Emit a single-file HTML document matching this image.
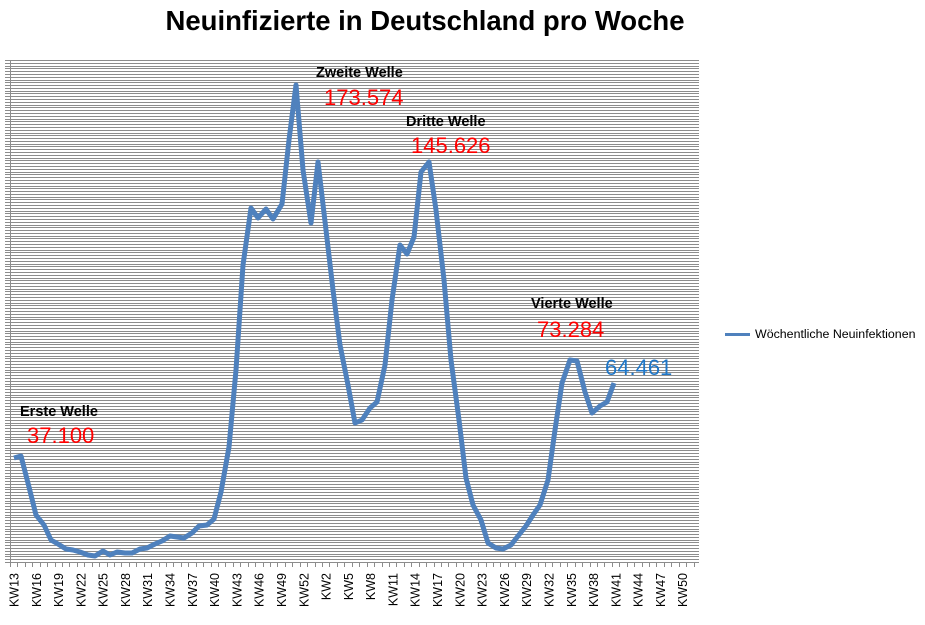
<!DOCTYPE html>
<html><head><meta charset="utf-8"><style>
body{margin:0;background:#fff;}
svg{display:block;font-family:"Liberation Sans",sans-serif;}
</style></head><body>
<svg width="925" height="625" viewBox="0 0 925 625">
<text x="425" y="30" text-anchor="middle" font-size="27.5" font-weight="bold" fill="#000">Neuinfizierte in Deutschland pro Woche</text>
<g id="grid" stroke="#8c8c8c" stroke-width="1"></g>
<line x1="10.5" y1="60" x2="10.5" y2="562" stroke="#8c8c8c"/>
<line x1="10" y1="562.5" x2="699" y2="562.5" stroke="#8c8c8c"/>
<g id="ticks" stroke="#8c8c8c"></g>
<g id="labels" font-size="12.5" fill="#000"></g>
<polyline fill="none" stroke="#4f81bd" stroke-width="5" stroke-linejoin="round" points="14,458 21,456 29,487 36,515 44,525 51,540 58,544 66,549 73,550 80,552 88,555 95,556 103,551 110,555 117,552 125,553 132,553 140,549 147,548 155,544 162,541 170,536 177,537 184,538 192,533 199,526 207,525 214,519 221,492 229,447 236,370 243,265 251,208 258,218 266,209 273,219 282,204 289,140 296,85 303,170 311,223 318,162 326,230 333,290 340,345 348,385 355,423 362,420 370,408 377,402 385,365 392,300 400,245 407,254 414,237 421,172 429,162 436,210 444,280 451,360 459,420 466,478 473,505 481,520 488,543 496,548 503,549 511,545 518,536 526,526 533,515 540,505 548,480 555,430 562,383 570,360 577,361 585,392 592,413 600,406 607,402 614,383"/>
<g font-size="14.5" font-weight="bold" fill="#000">
<text x="20" y="416">Erste Welle</text>
<text x="316" y="77">Zweite Welle</text>
<text x="406" y="126">Dritte Welle</text>
<text x="531" y="308">Vierte Welle</text>
</g>
<g font-size="22" fill="#ff0000">
<text x="27" y="443">37.100</text>
<text x="324" y="105">173.574</text>
<text x="411" y="153">145.626</text>
<text x="537" y="337">73.284</text>
</g>
<text x="605" y="375" font-size="22" fill="#1f77c8">64.461</text>
<line x1="725" y1="334.5" x2="750" y2="334.5" stroke="#4f81bd" stroke-width="3"/>
<text x="755" y="338" font-size="12.4" fill="#000">Wöchentliche Neuinfektionen</text>
</svg>
<script>
var g=document.getElementById('grid'),s='';
for(var v=0;v<=180;v++){var y=Math.round(562-v*502/180)+0.5;s+='<line x1="5" y1="'+y+'" x2="699" y2="'+y+'"/>';}
g.innerHTML=s;
var t='',l='';
for(var i=0;i<=92;i++){var x=Math.round(10+7.43*i)+0.5;if(x<=700)t+='<line x1="'+x+'" y1="562" x2="'+x+'" y2="567"/>';}
document.getElementById('ticks').innerHTML=t;
var names=[];for(var k=13;k<=53;k+=3)names.push(k);for(var k=2;k<=50;k+=3)names.push(k);
for(var j=0;j<names.length;j++){var x=14+7.43*3*j+4.5;l+='<text transform="translate('+x.toFixed(1)+',573) rotate(-90)" text-anchor="end">KW'+names[j]+'</text>';}
document.getElementById('labels').innerHTML=l;
</script>
</body></html>
